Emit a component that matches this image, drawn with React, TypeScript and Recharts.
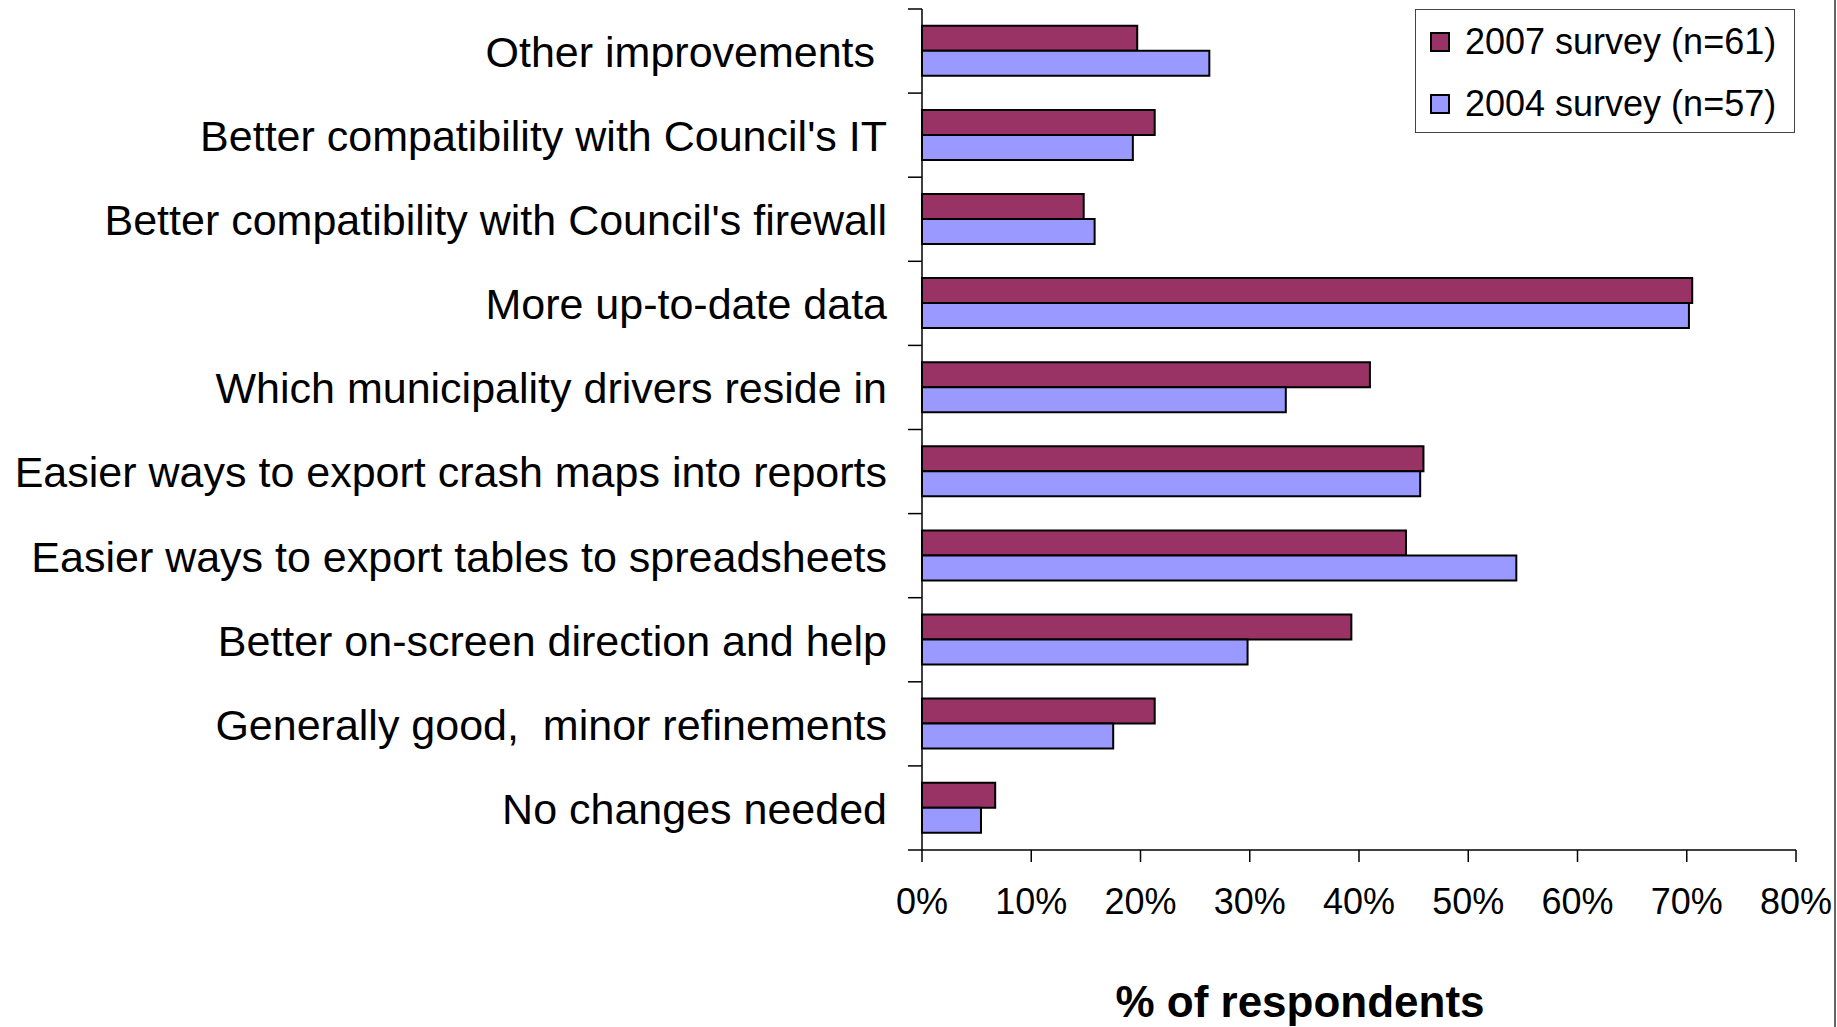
import { BarChart, Bar, XAxis, YAxis, Legend, Label } from 'recharts';

const categories = [
  'Other improvements ',
  "Better compatibility with Council's IT",
  "Better compatibility with Council's firewall",
  'More up-to-date data',
  'Which municipality drivers reside in',
  'Easier ways to export crash maps into reports',
  'Easier ways to export tables to spreadsheets',
  'Better on-screen direction and help',
  'Generally good,  minor refinements',
  'No changes needed',
];

// % of respondents
const survey2007 = [19.7, 21.3, 14.8, 70.5, 41.0, 45.9, 44.3, 39.3, 21.3, 6.7];
const survey2004 = [26.3, 19.3, 15.8, 70.2, 33.3, 45.6, 54.4, 29.8, 17.5, 5.4];

const seriesOrder = ['y2007', 'y2004'];
const xTicks = [0, 10, 20, 30, 40, 50, 60, 70, 80];

const FONT = '"Liberation Sans", Arial, sans-serif';
const WIDTH = 1837;
const HEIGHT = 1027;
const MARGIN = { top: 9, right: 41, bottom: 0, left: 0 };
const Y_AXIS_W = 922;
const X_AXIS_H = 177;
const BAND = (HEIGHT - MARGIN.top - MARGIN.bottom - X_AXIS_H) / categories.length;

const data = categories.map((name, i) => ({
  name,
  y2007: survey2007[i],
  y2004: survey2004[i],
}));

// Excel style: tick marks sit between the categories, not on them
function CategoryTick(props: any) {
  const { x, y, payload, index } = props;
  const half = BAND / 2;
  return (
    <g>
      <line x1={x - 14} x2={x} y1={y - half} y2={y - half} stroke="#000" strokeWidth={1.5} />
      {index === categories.length - 1 && (
        <line x1={x - 14} x2={x} y1={y + half} y2={y + half} stroke="#000" strokeWidth={1.5} />
      )}
      <text
        x={x - 35}
        y={y}
        dy="0.37em"
        textAnchor="end"
        fontSize={43}
        fontFamily={FONT}
        fill="#000"
        style={{ whiteSpace: 'pre' }}
      >
        {payload.value}
      </text>
    </g>
  );
}

function SurveyLegend({ payload }: any) {
  const items = [...(payload || [])].sort(
    (a: any, b: any) => seriesOrder.indexOf(a.dataKey) - seriesOrder.indexOf(b.dataKey)
  );
  return (
    <div
      style={{
        width: 380,
        height: 124,
        boxSizing: 'border-box',
        border: '1.5px solid #444',
        background: '#fff',
        fontFamily: FONT,
        fontSize: 36,
        color: '#000',
        paddingLeft: 14,
        paddingTop: 1,
      }}
    >
      {items.map((entry: any) => (
        <div key={entry.value} style={{ display: 'flex', alignItems: 'center', height: 62 }}>
          <span
            style={{
              display: 'inline-block',
              width: 20,
              height: 20,
              boxSizing: 'border-box',
              border: '2px solid #000',
              background: entry.color,
              marginRight: 15,
            }}
          />
          <span style={{ lineHeight: 1 }}>{entry.value}</span>
        </div>
      ))}
    </div>
  );
}

export default function App() {
  return (
    <div style={{ position: 'absolute', left: 0, top: 0, width: WIDTH, height: HEIGHT, background: '#fff' }}>
      <BarChart
        width={WIDTH}
        height={HEIGHT}
        data={data}
        layout="vertical"
        margin={MARGIN}
        barCategoryGap="20%"
        barGap={0}
      >
        <XAxis
          type="number"
          domain={[0, 80]}
          ticks={xTicks}
          interval={0}
          height={X_AXIS_H}
          tickFormatter={(v) => `${v}%`}
          tickSize={12}
          tickMargin={26}
          axisLine={{ stroke: '#000', strokeWidth: 1.5 }}
          tickLine={{ stroke: '#000', strokeWidth: 1.5 }}
          tick={{ fontSize: 36, fontFamily: FONT, fill: '#000' }}
        >
          <Label
            content={({ viewBox }: any) => (
              <text
                x={viewBox.x + viewBox.width / 2 - 59}
                y={viewBox.y + viewBox.height - 10}
                textAnchor="middle"
                fontSize={44}
                fontWeight="bold"
                fontFamily={FONT}
                fill="#000"
              >
                % of respondents
              </text>
            )}
          />
        </XAxis>
        <YAxis
          type="category"
          dataKey="name"
          width={Y_AXIS_W}
          interval={0}
          tickSize={0}
          tickMargin={0}
          tickLine={false}
          axisLine={{ stroke: '#000', strokeWidth: 1.5 }}
          tick={<CategoryTick />}
        />
        <Legend
          layout="vertical"
          align="center"
          verticalAlign="middle"
          content={<SurveyLegend />}
          wrapperStyle={{ left: 1415, top: 9, width: 'auto', height: 'auto' }}
        />
        <Bar dataKey="y2007" name="2007 survey (n=61)" fill="#993366" stroke="#000" strokeWidth={2} isAnimationActive={false} />
        <Bar dataKey="y2004" name="2004 survey (n=57)" fill="#9999FF" stroke="#000" strokeWidth={2} isAnimationActive={false} />
      </BarChart>
      <div style={{ position: 'absolute', left: 1834, top: 0, width: 2, height: HEIGHT, background: '#666' }} />
    </div>
  );
}
